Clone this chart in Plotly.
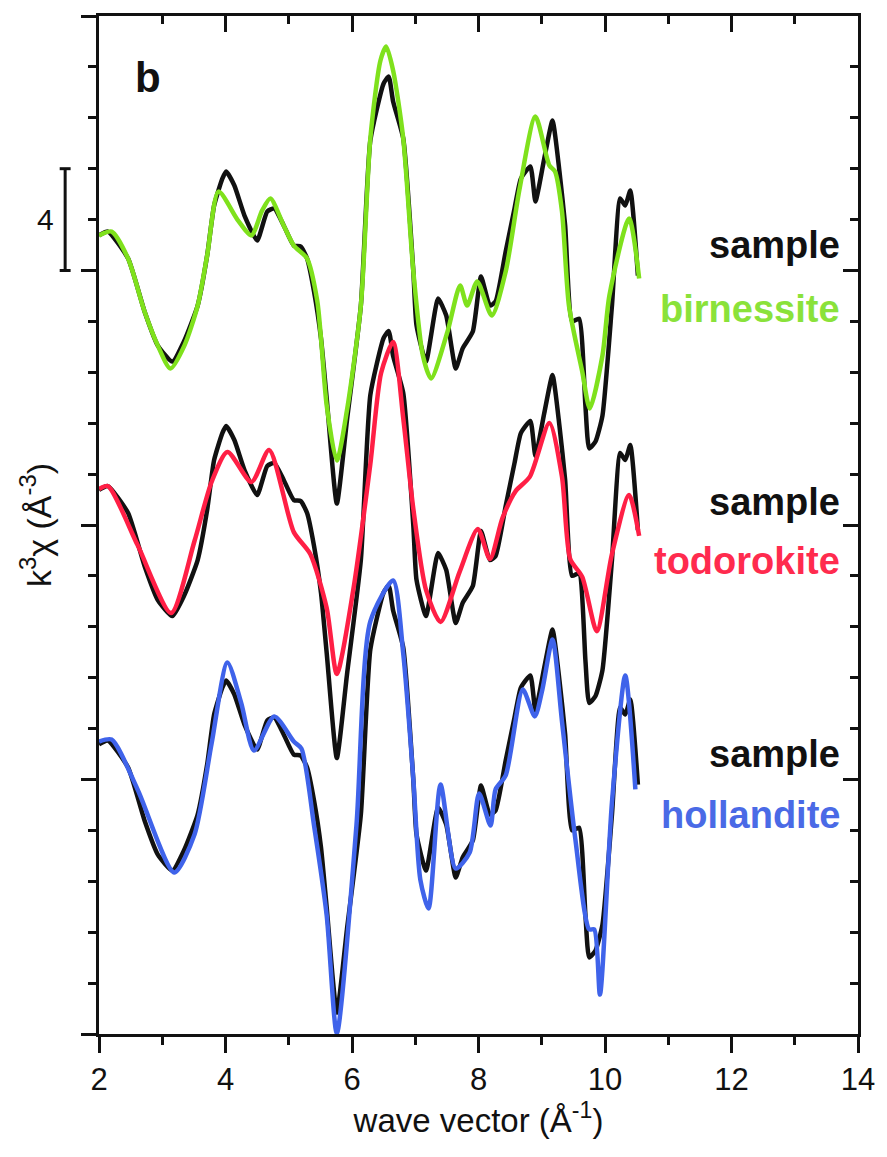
import plotly.graph_objects as go

# EXAFS k^3-weighted chi(k) of the sample and the three reference fits
k_sample = [2.00, 2.14, 2.46, 2.72, 2.93, 3.16, 3.35, 3.56, 3.71, 3.82, 3.95, 4.01, 4.14,
            4.30, 4.50, 4.66, 4.77, 4.92, 5.08, 5.19, 5.29, 5.40, 5.51, 5.60, 5.76, 5.92,
            6.14, 6.29, 6.50, 6.58, 6.65, 6.81, 6.97, 7.02, 7.17, 7.36, 7.49, 7.64, 7.75,
            7.91, 8.04, 8.18, 8.27, 8.43, 8.57, 8.67, 8.82, 8.90, 9.04, 9.17, 9.28, 9.37,
            9.48, 9.59, 9.69, 9.75, 9.85, 9.96, 10.11, 10.24, 10.32, 10.40, 10.52]
chi_sample = [1.38, 1.53, 0.47, -1.61, -2.95, -3.58, -2.75, -1.38, 0.59, 2.55, 3.61, 3.89, 3.34,
              2.16, 1.18, 2.32, 2.44, 1.77, 0.98, 0.94, 0.47, -0.83, -2.67, -5.03, -9.16, -5.89,
              -1.38, 5.11, 7.35, 7.62, 6.64, 5.19, -0.04, -2.16, -3.58, -1.10, -1.77, -3.85, -3.06,
              -2.40, -0.24, -1.38, -1.22, 0.75, 2.44, 3.61, 4.09, 2.71, 4.40, 5.89, 3.89, 1.77,
              -2.00, -1.89, -5.30, -6.99, -6.72, -5.70, -1.38, 2.83, 2.55, 3.14, -0.20]

k_birnessite = [2.00, 2.20, 2.46, 2.72, 2.93, 3.13, 3.35, 3.56, 3.71, 3.89, 4.20, 4.41, 4.58,
                4.71, 4.92, 5.08, 5.29, 5.45, 5.51, 5.60, 5.76, 5.92, 6.14, 6.29, 6.45, 6.54,
                6.65, 6.81, 6.97, 7.12, 7.25, 7.51, 7.71, 7.82, 7.98, 8.21, 8.43, 8.65, 8.90,
                9.12, 9.21, 9.32, 9.43, 9.64, 9.76, 9.96, 10.07, 10.38, 10.54]
chi_birnessite = [1.38, 1.53, 0.47, -1.61, -2.95, -3.85, -2.95, -1.38, 0.59, 3.10, 1.96, 1.38, 2.36,
                  2.83, 1.77, 0.98, 0.47, -1.18, -2.67, -5.30, -7.47, -5.50, -1.38, 5.19, 8.25, 8.80,
                  7.86, 5.19, -0.04, -3.34, -4.24, -2.40, -0.59, -1.38, -0.43, -1.77, -0.04, 3.22, 6.05,
                  4.13, 3.89, 2.32, -1.38, -3.97, -5.42, -3.34, -0.98, 2.04, -0.31]

k_todorokite = [2.00, 2.14, 2.61, 3.14, 3.51, 3.78, 4.03, 4.41, 4.69, 5.08, 5.34, 5.60, 5.76,
                6.02, 6.29, 6.46, 6.65, 6.81, 6.97, 7.17, 7.40, 7.70, 7.99, 8.18, 8.38, 8.59,
                8.81, 9.12, 9.32, 9.45, 9.64, 9.87, 10.11, 10.38, 10.54]
chi_todorokite = [1.41, 1.53, -0.79, -3.46, -0.63, 1.69, 2.87, 1.69, 2.95, -0.28, -1.14, -3.26, -5.85,
                  -2.55, 2.40, 5.97, 7.19, 4.20, 0.63, -2.55, -3.81, -1.85, -0.16, -1.34, 0.28, 1.34,
                  1.89, 4.01, 1.89, -1.34, -2.04, -4.17, -1.14, 1.18, -0.43]

k_hollandite = [2.00, 2.20, 2.61, 3.19, 3.51, 3.78, 4.03, 4.25, 4.45, 4.77, 5.08, 5.20, 5.40,
                5.60, 5.76, 6.07, 6.29, 6.65, 6.81, 6.97, 7.08, 7.21, 7.40, 7.64, 7.86, 8.01,
                8.19, 8.27, 8.43, 8.70, 8.89, 9.01, 9.17, 9.32, 9.53, 9.75, 9.83, 9.92, 10.11,
                10.32, 10.48]
chi_hollandite = [1.49, 1.57, -0.39, -3.65, -2.16, 1.41, 4.60, 2.99, 1.14, 2.48, 1.49, 1.22, -1.81,
                  -5.34, -9.98, -1.81, 6.21, 7.82, 4.95, 0.00, -3.93, -5.07, -0.20, -3.50, -2.87, -0.55,
                  -1.81, -0.39, 0.16, 3.54, 2.48, 3.54, 5.50, 2.28, -2.32, -5.89, -5.89, -8.45, -0.90,
                  4.09, -0.39]

references = ["birnessite", "todorokite", "hollandite"]
offsets = [30, 20, 10]

FONT = "Liberation Sans, Arial, sans-serif"
colors = {"birnessite": "#7fe11c", "todorokite": "#ff1f45", "hollandite": "#3f63ea"}
label_colors = {"birnessite": "#8ae23a", "todorokite": "#ff2b4e", "hollandite": "#4a6ae6"}
ref_k = {"birnessite": k_birnessite, "todorokite": k_todorokite, "hollandite": k_hollandite}
ref_chi = {"birnessite": chi_birnessite, "todorokite": chi_todorokite, "hollandite": chi_hollandite}

fig = go.Figure()
for name, off in zip(references, offsets):
    fig.add_trace(go.Scatter(
        x=k_sample, y=[v + off for v in chi_sample], mode="lines", name="sample",
        line=dict(color="#111111", width=4.5, shape="spline", smoothing=0.5),
        showlegend=False))
    fig.add_trace(go.Scatter(
        x=ref_k[name], y=[v + off for v in ref_chi[name]], mode="lines", name=name,
        line=dict(color=colors[name], width=4.5, shape="spline", smoothing=0.7),
        showlegend=False))

# helper trace so the mirrored top/right axes are drawn
fig.add_trace(go.Scatter(x=[2], y=[0], xaxis="x2", yaxis="y2", mode="markers",
                         marker=dict(opacity=0), showlegend=False, hoverinfo="skip"))

# curve labels
label_pos = {"birnessite": (31.0, 28.5), "todorokite": (20.9, 18.6), "hollandite": (11.0, 8.6)}
for name in references:
    ys, yr = label_pos[name]
    fig.add_annotation(x=13.74, y=ys, xref="x", yref="y", text="<b>sample</b>",
                       showarrow=False, xanchor="right", yanchor="middle",
                       font=dict(family=FONT, size=38, color="#111111"))
    fig.add_annotation(x=13.74, y=yr, xref="x", yref="y", text="<b>%s</b>" % name,
                       showarrow=False, xanchor="right", yanchor="middle",
                       font=dict(family=FONT, size=38, color=label_colors[name]))

# panel letter
fig.add_annotation(x=2.77, y=37.6, xref="x", yref="y", text="<b>b</b>", showarrow=False,
                   font=dict(family=FONT, size=42, color="#111111"))

# scale bar of 4 units
bar_x, cap = -0.0446, 0.0072
fig.add_shape(type="line", xref="paper", yref="y", x0=bar_x, x1=bar_x, y0=30, y1=34,
              line=dict(color="#111111", width=3))
for yv in (30, 34):
    fig.add_shape(type="line", xref="paper", yref="y", x0=bar_x - cap, x1=bar_x + cap,
                  y0=yv, y1=yv, line=dict(color="#111111", width=3))
fig.add_annotation(x=-0.084, y=32, xref="paper", yref="y", text="4", showarrow=False,
                   font=dict(family=FONT, size=30, color="#111111"))

axis_common = dict(showline=True, linewidth=3, linecolor="#111111", showgrid=False,
                   zeroline=False, tickwidth=3, tickcolor="#111111")

fig.update_layout(
    width=887, height=1157,
    margin=dict(l=99, r=25, t=16, b=123),
    paper_bgcolor="white", plot_bgcolor="white",
    xaxis=dict(range=[2, 14], tick0=2, dtick=2, ticks="outside", ticklen=16,
               minor=dict(dtick=1, ticks="outside", ticklen=8, tickwidth=3, tickcolor="#111111"),
               tickfont=dict(family=FONT, size=31, color="#111111"),
               title=dict(text="wave vector (Å<sup>-1</sup>)", standoff=12,
                          font=dict(family=FONT, size=33, color="#111111")),
               **axis_common),
    yaxis=dict(range=[0, 40], tick0=0, dtick=10, ticks="outside", ticklen=15,
               showticklabels=False,
               minor=dict(dtick=2, ticks="outside", ticklen=8, tickwidth=3, tickcolor="#111111"),
               title=dict(text="k<sup>3</sup>χ (Å<sup>-3</sup>)", standoff=20,
                          font=dict(family=FONT, size=34, color="#111111")),
               **axis_common),
    xaxis2=dict(range=[2, 14], overlaying="x", side="top", matches="x", tick0=2, dtick=2,
                ticks="inside", ticklen=16, showticklabels=False,
                minor=dict(dtick=1, ticks="inside", ticklen=8, tickwidth=3, tickcolor="#111111"),
                **axis_common),
    yaxis2=dict(range=[0, 40], overlaying="y", side="right", matches="y", tick0=0, dtick=10,
                ticks="inside", ticklen=15, showticklabels=False,
                minor=dict(dtick=2, ticks="inside", ticklen=8, tickwidth=3, tickcolor="#111111"),
                **axis_common),
)

fig.write_html("out.html")
